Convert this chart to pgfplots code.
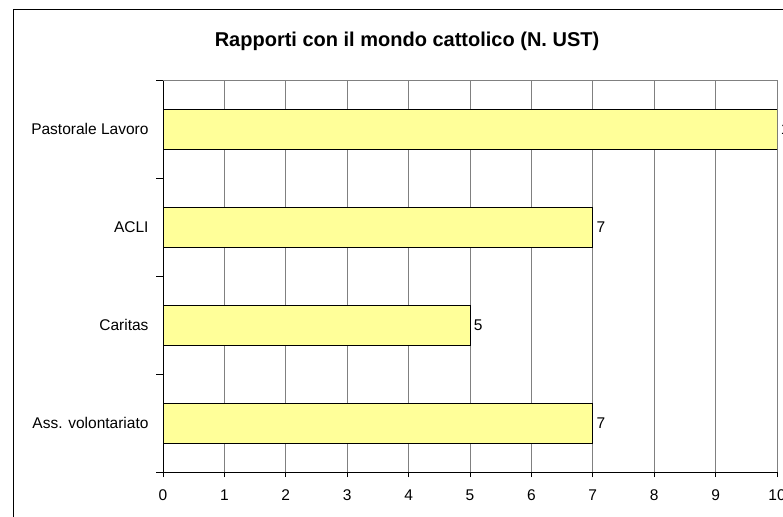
\documentclass[border=0pt]{standalone}
\usepackage{pgfplots}
\pgfplotsset{compat=1.18}
\usepackage{fontspec}
\setmainfont{Liberation Sans}
\definecolor{barfill}{HTML}{FFFF99}
\definecolor{gridgray}{HTML}{808080}

\begin{document}
\begin{tikzpicture}
\begin{scope}
\clip (0,0) rectangle (783pt,-516pt);
% outer chart frame (right and bottom edges fall outside the crop)
\draw[black, line width=1pt] (13.5pt,-600pt) -- (13.5pt,-9.5pt) -- (900pt,-9.5pt);
\node[font=\fontsize{20}{24}\selectfont\bfseries, anchor=base, inner sep=0pt] at (407pt,-46.5pt)
  {Rapporti con il mondo cattolico (N. UST)};
\begin{axis}[
  at={(163pt,-472pt)}, anchor=south west,
  scale only axis, width=614pt, height=392pt,
  xbar, bar width=40pt,
  xmin=0, xmax=10, ymin=-0.5, ymax=3.5,
  xtick={0,...,10},
  ytick={0,1,2,3},
  yticklabels={Ass. volontariato, Caritas, ACLI, Pastorale Lavoro},
  minor ytick={-0.5,0.5,1.5,2.5,3.5},
  axis x line*=bottom, axis y line*=left,
  axis line style={black, line width=1pt, -},
  xmajorgrids, grid style={gridgray, line width=1pt},
  tick align=outside,
  major tick length=5pt, minor tick length=7pt,
  major y tick style={draw=none},
  minor y tick style={black, line width=1pt},
  xtick style={black, line width=1pt},
  /pgf/number format/assume math mode=true,
  ticklabel style={font=\fontsize{15.5}{18}\selectfont},
  xticklabel style={yshift=-9pt},
  yticklabel style={xshift=-6pt},
  nodes near coords,
  every node near coord/.append style={font=\fontsize{15.5}{18}\selectfont, anchor=west},
]
\addplot[fill=barfill, draw=black, line width=1pt]
  coordinates {(7,0) (5,1) (7,2) (10,3)};
\draw[gridgray, line width=1pt] (rel axis cs:0,1) -- (rel axis cs:1,1);
\end{axis}
\end{scope}
\pgfresetboundingbox
\useasboundingbox (0,0) rectangle (783pt,-516pt);
\end{tikzpicture}
\end{document}
